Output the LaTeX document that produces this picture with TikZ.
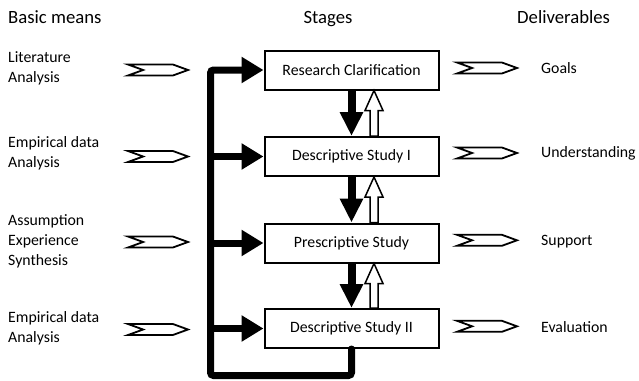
\documentclass[tikz,border=0pt]{standalone}
\usepackage{fontspec}
\setmainfont{Carlito}
\usetikzlibrary{arrows.meta}
\usetikzlibrary{shapes}
\usetikzlibrary{calc}

\begin{document}
\begin{tikzpicture}[x=1pt, y=-1pt,
        head_style/.style={font=\fontsize{18.7}{22}\selectfont, inner sep=0pt},
        means_style/.style={font=\fontsize{15.8}{20}\selectfont, align=left, anchor=base west, inner sep=0pt},
        deliv_style/.style={font=\fontsize{15.8}{20}\selectfont, anchor=base west, inner sep=0pt},
        stage_style/.style={draw, line width=2pt, fill=white, minimum width=174pt, minimum height=39pt, inner sep=0pt, font=\fontsize{15.8}{20}\selectfont},
        chevron_style/.style={signal, signal from=west, signal to=east, signal pointer angle=40, draw, line width=1.8pt, fill=white, minimum width=60pt, minimum height=11pt, inner sep=0pt},
        feed_style/.style={draw=black, line width=7pt, -{Triangle[length=22pt, width=25pt]}},
        down_style/.style={draw=black, line width=8pt, -{Triangle[length=24pt, width=22pt]}},
        up_style/.style={draw=black, line width=1.5pt, fill=white}]

        \useasboundingbox (0,0) rectangle (639,380);

        \node [head_style, anchor=base west](h1) at (8,23) {Basic means};
        \node [head_style, anchor=base](h2) at (328,23) {Stages};
        \node [head_style, anchor=base west](h3) at (517,23) {Deliverables};

        \node [means_style](m1) at (8,82.5) {Literature\\Analysis};
        \node [means_style](m2) at (8,167.7) {Empirical data\\Analysis};
        \node [means_style](m3) at (8,265) {Assumption\\Experience\\Synthesis};
        \node [means_style](m4) at (8,342) {Empirical data\\Analysis};

        \node [chevron_style](c1) at (158,70) {};
        \node [chevron_style](c2) at (158,156.5) {};
        \node [chevron_style](c3) at (158,242) {};
        \node [chevron_style](c4) at (158,329.5) {};

        \node [stage_style](rc) at (351.5,70) {Research Clarification};
        \node [stage_style](ds1) at (351.5,156.5) {Descriptive Study I};
        \node [stage_style](ps) at (351.5,243) {Prescriptive Study};
        \node [stage_style](ds2) at (351.5,328.5) {Descriptive Study II};

        \node [chevron_style](d1) at (487,68) {};
        \node [chevron_style](d2) at (487,153) {};
        \node [chevron_style](d3) at (487,240.3) {};
        \node [chevron_style](d4) at (487,326.3) {};

        \node [deliv_style](g1) at (541,73) {Goals};
        \node [deliv_style](g2) at (541,157.3) {Understanding};
        \node [deliv_style](g3) at (541,245.7) {Support};
        \node [deliv_style](g4) at (541,332.3) {Evaluation};

        \coordinate (bus) at (210.5,375.5);

        \draw [feed_style, line cap=round, rounded corners=3pt] (ds2.south) -- (ds2.south |- bus) -- (bus) -- (rc.west -| bus) -- (rc.west);

        \draw [feed_style] (ds1.west -| bus) -- (ds1.west);

        \draw [feed_style] (ps.west -| bus) -- (ps.west);

        \draw [feed_style] (ds2.west -| bus) -- (ds2.west);

        \draw [down_style] (rc.south) -- (ds1.north);

        \draw [down_style] (ds1.south) -- (ps.north);

        \draw [down_style] (ps.south) -- (ds2.north);

        \draw [up_style] ($(ds1.north)+(18.5,0)$) -- ($(rc.south)+(18.5,20)$) -- ($(rc.south)+(13.5,20)$) -- ($(rc.south)+(22.5,0)$) -- ($(rc.south)+(31.5,20)$) -- ($(rc.south)+(26.5,20)$) -- ($(ds1.north)+(26.5,0)$) -- cycle;

        \draw [up_style] ($(ps.north)+(18.5,0)$) -- ($(ds1.south)+(18.5,20)$) -- ($(ds1.south)+(13.5,20)$) -- ($(ds1.south)+(22.5,0)$) -- ($(ds1.south)+(31.5,20)$) -- ($(ds1.south)+(26.5,20)$) -- ($(ps.north)+(26.5,0)$) -- cycle;

        \draw [up_style] ($(ds2.north)+(18.5,0)$) -- ($(ps.south)+(18.5,20)$) -- ($(ps.south)+(13.5,20)$) -- ($(ps.south)+(22.5,0)$) -- ($(ps.south)+(31.5,20)$) -- ($(ps.south)+(26.5,20)$) -- ($(ds2.north)+(26.5,0)$) -- cycle;

        \end{tikzpicture}
\end{document}
